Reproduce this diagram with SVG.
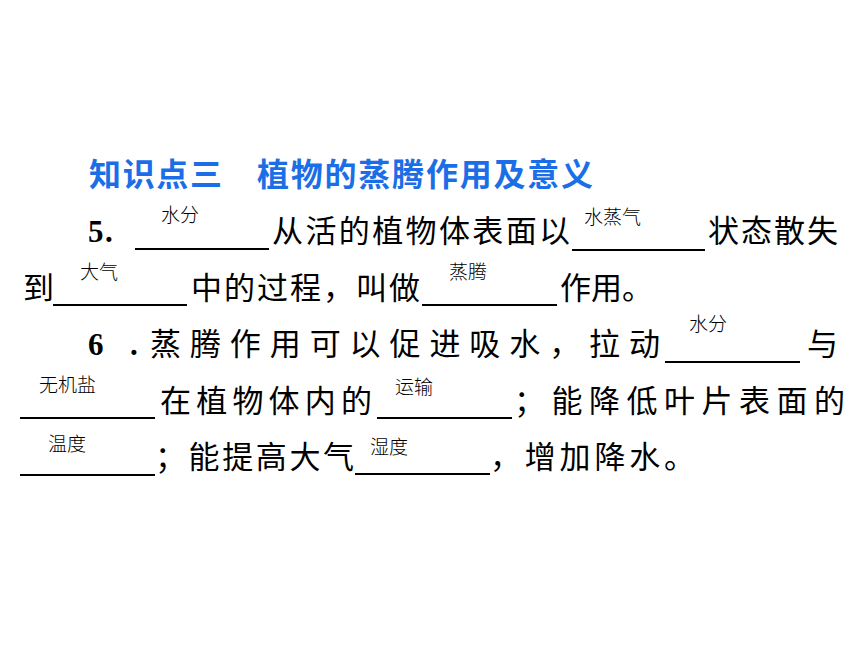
<svg xmlns="http://www.w3.org/2000/svg" width="860" height="645" viewBox="0 0 860 645">
<style>
.title{font-family:"Noto Sans CJK SC","Noto Sans",sans-serif;font-weight:700;font-size:32px;fill:#1c6ee6}
.body{font-family:"Noto Sans CJK SC","Noto Sans",sans-serif;font-weight:400;font-size:31px;fill:#000}
.num{font-family:"Liberation Serif","Noto Sans CJK SC",serif;font-weight:700;font-size:31px;fill:#000}
.ans{font-family:"Noto Sans CJK SC","Noto Sans",sans-serif;font-weight:300;font-size:19px;fill:#000}
.blank{stroke:#000;stroke-width:1.8;fill:none}
</style>
<rect width="860" height="645" fill="#fff"/>
<g id="title">
<text class="title" x="89" y="186" textLength="133" lengthAdjust="spacing">知识点三</text>
<text class="title" x="257" y="186" textLength="336" lengthAdjust="spacing">植物的蒸腾作用及意义</text>
</g>
<g id="blanks">
<line class="blank" x1="135" y1="249" x2="269" y2="249"/>
<line class="blank" x1="572" y1="250" x2="705" y2="250"/>
<line class="blank" x1="53" y1="305" x2="187" y2="305"/>
<line class="blank" x1="422" y1="305" x2="557" y2="305"/>
<line class="blank" x1="665" y1="362" x2="800" y2="362"/>
<line class="blank" x1="20" y1="418" x2="155" y2="418"/>
<line class="blank" x1="377" y1="418" x2="512" y2="418"/>
<line class="blank" x1="20" y1="475" x2="155" y2="475"/>
<line class="blank" x1="355" y1="474" x2="490" y2="474"/>
</g>
<g id="item5">
<text class="num" x="88" y="242">5</text>
<text class="num" x="105" y="242">.</text>
<text class="body" x="272" y="242" textLength="298" lengthAdjust="spacing">从活的植物体表面以</text>
<text class="body" x="708" y="242" textLength="130" lengthAdjust="spacing">状态散失</text>
<text class="body" x="23" y="299">到</text>
<text class="body" x="191" y="299" textLength="229" lengthAdjust="spacing">中的过程，叫做</text>
<text class="body" x="560" y="299">作用。</text>
<text class="ans" x="161" y="222">水分</text>
<text class="ans" x="584" y="224">水蒸气</text>
<text class="ans" x="80" y="279">大气</text>
<text class="ans" x="449" y="279">蒸腾</text>
</g>
<g id="item6">
<text class="num" x="88" y="355">6</text>
<text class="num" x="130" y="355">.</text>
<text class="body" x="150" y="355" textLength="510" lengthAdjust="spacing">蒸腾作用可以促进吸水，拉动</text>
<text class="body" x="807" y="355">与</text>
<text class="body" x="160" y="412" textLength="212" lengthAdjust="spacing">在植物体内的</text>
<text class="body" x="514" y="412" textLength="331" lengthAdjust="spacing">；能降低叶片表面的</text>
<text class="body" x="155" y="468" textLength="199" lengthAdjust="spacing">；能提高大气</text>
<text class="body" x="490" y="468" textLength="205" lengthAdjust="spacing">，增加降水。</text>
<text class="ans" x="689" y="331">水分</text>
<text class="ans" x="39" y="392">无机盐</text>
<text class="ans" x="395" y="394">运输</text>
<text class="ans" x="48" y="451">温度</text>
<text class="ans" x="370" y="454">湿度</text>
</g>
</svg>
